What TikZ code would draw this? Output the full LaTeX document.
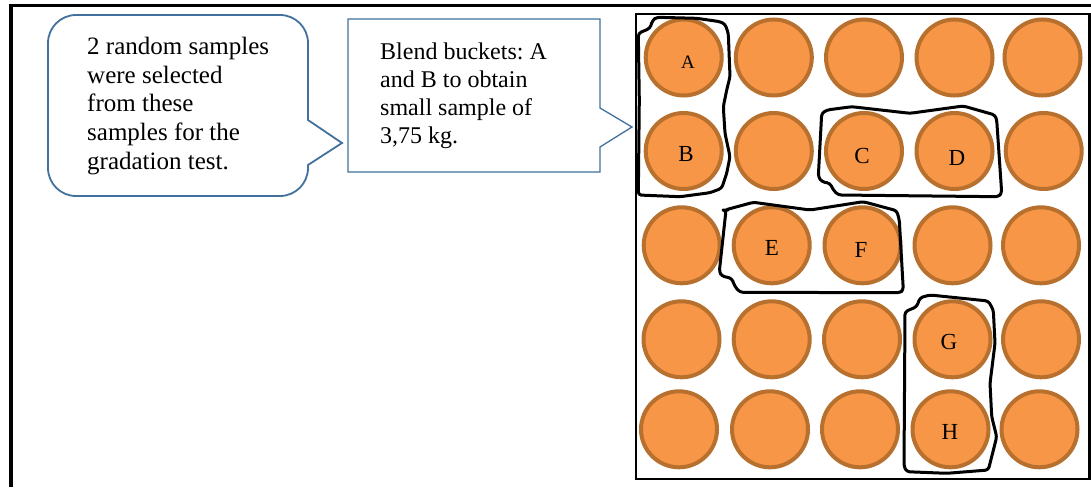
\documentclass[tikz,border=0pt]{standalone}
\usepackage{fontspec}
\setmainfont{Liberation Serif}
\frenchspacing
\definecolor{bfill}{HTML}{F79646}
\definecolor{bline}{HTML}{B8702F}
\definecolor{cblue}{HTML}{41719C}
\begin{document}
\begin{tikzpicture}[x=1pt,y=-1pt,
  bucket/.style={circle, fill=bfill, draw=bline, line width=4pt, minimum size=76pt, inner sep=0pt},
  letter/.style={font=\fontsize{23}{26}\selectfont, inner sep=0pt},
  handloop/.style={draw=black, line width=3pt, rounded corners=3pt, line join=round},
  callout/.style={draw=cblue, fill=white, line join=miter},
  ctext/.style={align=left, anchor=north west, inner sep=0pt}]
\useasboundingbox (0,0) rectangle (1091,487);
% outer frame
\draw[line width=3.5pt] (11,487) -- (11,5.3);
\draw[line width=2.5pt] (9.25,5.3) -- (1091,5.3);
% grid box
\draw[line width=2.3pt] (636,13.7) rectangle (1089.5,479);
% buckets
\node[bucket] (c11) at (683.7,57.5) {};
\node[bucket] (c12) at (773.8,57.5) {};
\node[bucket] (c13) at (864,57.5) {};
\node[bucket] (c14) at (954.5,57.5) {};
\node[bucket] (c15) at (1042.5,57.5) {};
\node[bucket] (c21) at (683.7,151) {};
\node[bucket] (c22) at (773.8,151) {};
\node[bucket] (c23) at (864,151) {};
\node[bucket] (c24) at (954.5,151) {};
\node[bucket] (c25) at (1043.7,151) {};
\node[bucket] (c31) at (681.7,245.3) {};
\node[bucket] (c32) at (771.7,245.3) {};
\node[bucket] (c33) at (862.5,245.3) {};
\node[bucket] (c34) at (952.5,245.3) {};
\node[bucket] (c35) at (1041,245.3) {};
\node[bucket] (c41) at (681.5,339.3) {};
\node[bucket] (c42) at (771.7,339.3) {};
\node[bucket] (c43) at (862,339.3) {};
\node[bucket] (c44) at (952.5,339.3) {};
\node[bucket] (c45) at (1041,339.3) {};
\node[bucket] (c51) at (679,429.3) {};
\node[bucket] (c52) at (770,429.3) {};
\node[bucket] (c53) at (860,429.3) {};
\node[bucket] (c54) at (950.5,429.3) {};
\node[bucket] (c55) at (1039.5,429.3) {};
% letters
\node[letter, font=\fontsize{19}{22}\selectfont] (lA) at (688,62) {A};
\node[letter] (lB) at (686,154) {B};
\node[letter] (lC) at (862,156) {C};
\node[letter] (lD) at (957,158) {D};
\node[letter] (lE) at (772,248) {E};
\node[letter] (lF) at (861,250) {F};
\node[letter] (lG) at (949,342) {G};
\node[letter] (lH) at (950,432) {H};
% hand-drawn loops
\draw[handloop] (638.3,33.3) -- (650,28.3) -- (652.7,20) -- (656.7,17.3) -- (696.7,18.3) -- (720,21.7) -- (725,24) -- (728.3,33.3) -- (730,76.7) -- (726.7,90) -- (723.3,106.7) -- (725,133.3) -- (730,156.7) -- (726.7,173.3) -- (721.7,188.3) -- (710,192.7) -- (680,196.7) -- (638.3,195) -- (639.3,100) -- cycle;
\draw[handloop] (827,110) -- (851.7,106.7) -- (910,113.3) -- (963.3,106) -- (995,115) -- (996.7,120) -- (1001.7,193.3) -- (998.3,196.7) -- (838.3,195) -- (833.3,190) -- (830,183.3) -- (821.7,181.7) -- (818.3,176.7) -- (821.7,113.3) -- cycle;
\draw[handloop] (725,210) -- (753.3,202.3) -- (810,210) -- (863.3,201.7) -- (896.7,210.7) -- (899.3,220) -- (903.3,290) -- (900,292.7) -- (740,292.3) -- (735,286.7) -- (731.7,278.3) -- (721.7,276) -- (719.3,271.7) -- (726,210) -- cycle;
\draw[handloop] (905,311.7) -- (916.7,306.7) -- (920,297.7) -- (930,295) -- (988.3,301) -- (993.3,310) -- (995,343.3) -- (990,383.3) -- (991.7,416.7) -- (996.7,436.7) -- (991.7,456.7) -- (988.3,470) -- (946.7,473.3) -- (906.7,471.7) -- (904,466.7) -- cycle;
% callout 1 (rounded, pointer right)
\draw[callout, line width=1.8pt] (76,15) -- (280,15) arc[start angle=-90,end angle=0,radius=28] -- (308,120) -- (342,143) -- (308,165) -- (308,168) arc[start angle=0,end angle=90,radius=28] -- (76,196) arc[start angle=90,end angle=180,radius=28] -- (48,43) arc[start angle=180,end angle=270,radius=28] -- cycle;
\node[ctext, font=\fontsize{25}{28.7}\selectfont] (t1) at (87,37) {2 random samples\\were selected\\from these\\samples for the\\gradation test.};
% callout 2 (rectangle, pointer right)
\draw[callout, line width=1.3pt] (348,19) -- (600,19) -- (600,108) -- (632,127) -- (600,147) -- (600,172) -- (348,172) -- cycle;
\node[ctext, font=\fontsize{24}{28}\selectfont] (t2) at (380,43) {Blend buckets: A\\and B to obtain\\small sample of\\3,75 kg.};
\end{tikzpicture}
\end{document}
